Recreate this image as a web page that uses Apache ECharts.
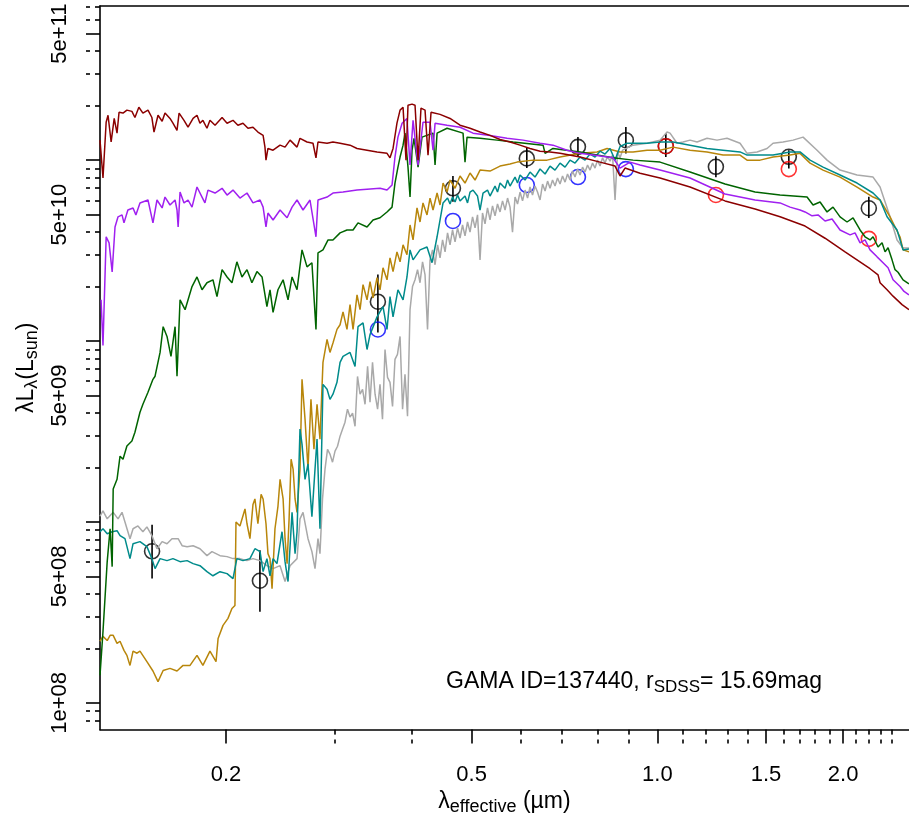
<!DOCTYPE html>
<html><head><meta charset="utf-8">
<script src="https://cdn.jsdelivr.net/npm/echarts@6/dist/echarts.min.js"></script>
<style>html,body{margin:0;padding:0;background:#fff}#c{width:909px;height:821px}</style>
</head><body><div id="c"></div>
<script>
// ---- spectra (wavelength in micron, lambda*L_lambda in L_sun) ----
const darkredWave = [0.1250,0.1264,0.1279,0.1288,0.1303,0.1318,0.1332,0.1342,0.1362,0.1382,0.1408,0.1424,0.1445,0.1467,0.1495,0.1517,0.1529,0.1552,0.1576,0.1593,0.1623,0.1641,0.1666,0.1679,0.1710,0.1736,0.1769,0.1795,0.1815,0.1835,0.1863,0.1884,0.1920,0.1971,0.2008,0.2053,0.2091,0.2131,0.2171,0.2212,0.2253,0.2297,0.2313,0.2322,0.2339,0.2384,0.2447,0.2493,0.2540,0.2607,0.2636,0.2706,0.2767,0.2798,0.2819,0.2916,0.2981,0.3061,0.3177,0.3261,0.3385,0.3514,0.3647,0.3688,0.3730,0.3785,0.3829,0.3872,0.3915,0.3944,0.4004,0.4049,0.4095,0.4140,0.4203,0.4250,0.4298,0.4445,0.4614,0.4789,0.4971,0.5160,0.5356,0.5560,0.5771,0.5991,0.6218,0.6455,0.6700,0.6955,0.7494,0.8074,0.8539,0.8700,0.8864,0.9374,1.0100,1.1296,1.2872,1.4397,1.5804,1.7349,1.8693,2.0141,2.2110,2.278,2.2951,2.3559,2.4091,2.4914,2.5566];
const darkredLum = [1.29e11,7.96e10,1.62e11,1.77e11,1.26e11,1.70e11,1.41e11,1.84e11,1.82e11,1.89e11,1.86e11,1.72e11,1.96e11,1.82e11,1.89e11,1.72e11,1.43e11,1.77e11,1.64e11,1.82e11,1.70e11,1.60e11,1.46e11,1.82e11,1.66e11,1.52e11,1.70e11,1.77e11,1.60e11,1.66e11,1.50e11,1.66e11,1.56e11,1.72e11,1.60e11,1.66e11,1.56e11,1.60e11,1.50e11,1.52e11,1.43e11,1.37e11,1.18e11,1.00e11,1.16e11,1.135e11,1.21e11,1.18e11,1.29e11,1.18e11,1.32e11,1.26e11,1.24e11,1.03e11,1.26e11,1.24e11,1.26e11,1.24e11,1.21e11,1.16e11,1.135e11,1.11e11,1.09e11,1.03e11,1.16e11,1.60e11,1.89e11,1.96e11,1.00e11,2.01e11,2.04e11,2.01e11,1.00e11,1.94e11,1.89e11,1.066e11,1.84e11,1.79e11,1.70e11,1.56e11,1.50e11,1.43e11,1.37e11,1.30e11,1.26e11,1.21e11,1.16e11,1.12e11,1.11e11,1.09e11,1.04e11,9.75e10,9.27e10,8.17e10,9.04e10,8.46e10,7.96e10,7.10e10,5.95e10,5.37e10,4.86e10,4.32e10,3.70e10,3.11e10,2.51e10,2.32e10,2.10e10,1.92e10,1.77e10,1.59e10,1.49e10];

const purpleWave = [0.1255,0.1264,0.1279,0.1293,0.1308,0.1322,0.1337,0.1357,0.1367,0.1387,0.1414,0.1429,0.1451,0.1495,0.1523,0.1546,0.1576,0.1593,0.1623,0.1654,0.1666,0.1673,0.1685,0.1710,0.1736,0.1762,0.1795,0.1829,0.1849,0.1870,0.1920,0.1971,0.2008,0.2053,0.2107,0.2163,0.2212,0.2271,0.2297,0.2322,0.2339,0.2384,0.2447,0.2512,0.2559,0.2607,0.2666,0.2736,0.2798,0.2819,0.2916,0.2981,0.3095,0.3261,0.3385,0.3553,0.3647,0.3716,0.3757,0.3799,0.3858,0.3929,0.3974,0.4019,0.4095,0.4171,0.4282,0.4330,0.4363,0.4563,0.4789,0.5027,0.5356,0.5707,0.6058,0.6455,0.6775,0.7139,0.7494,0.7867,0.8475,0.8700,0.9031,0.9374,1.0100,1.1296,1.2872,1.4397,1.5804,1.6405,1.7029,1.7349,1.7808,1.8212,1.8693,1.9188,1.9769,2.0521,2.0906,2.1301,2.1701,2.2110,2.2696,2.3209,2.3647,2.4091,2.4729,2.5101,2.5566];
const purpleLum = [1.69e10,9.45e9,3.77e10,3.49e10,2.41e10,4.27e10,4.86e10,4.98e10,4.50e10,5.30e10,5.44e10,4.98e10,5.80e10,6.02e10,4.50e10,6.02e10,5.44e10,6.25e10,5.65e10,6.02e10,5.30e10,4.27e10,6.66e10,5.80e10,6.02e10,5.50e10,7.10e10,6.25e10,5.80e10,6.83e10,6.58e10,6.99e10,6.41e10,6.83e10,6.17e10,6.58e10,5.80e10,6.02e10,5.50e10,4.27e10,5.10e10,4.67e10,5.30e10,4.80e10,5.50e10,6.02e10,5.30e10,6.02e10,3.77e10,6.02e10,6.25e10,6.58e10,6.66e10,6.83e10,6.91e10,6.99e10,6.83e10,7.28e10,1.04e11,1.34e11,1.60e11,1.70e11,9.39e10,1.66e11,9.39e10,1.62e11,1.62e11,1.135e11,1.60e11,1.56e11,1.52e11,1.41e11,1.37e11,1.32e11,1.29e11,1.24e11,1.21e11,1.135e11,1.09e11,1.066e11,1.03e11,9.04e10,9.75e10,9.39e10,8.81e10,7.96e10,6.50e10,6.02e10,5.80e10,5.50e10,5.30e10,5.17e10,4.92e10,4.98e10,4.61e10,4.73e10,4.11e10,3.86e10,3.96e10,3.49e10,3.62e10,3.19e10,2.92e10,2.71e10,2.54e10,2.18e10,2.00e10,1.88e10,1.80e10];

const greenWave = [0.1250,0.1264,0.1284,0.1298,0.1308,0.1313,0.1332,0.1347,0.1362,0.1382,0.1408,0.1424,0.1451,0.1467,0.1495,0.1523,0.1535,0.1564,0.1582,0.1605,0.1629,0.1654,0.1666,0.1685,0.1717,0.1762,0.1795,0.1829,0.1863,0.1905,0.1934,0.1971,0.2008,0.2045,0.2083,0.2123,0.2163,0.2203,0.2245,0.2288,0.2330,0.2357,0.2384,0.2428,0.2475,0.2521,0.2559,0.2607,0.2656,0.2706,0.2756,0.2798,0.2819,0.2872,0.2927,0.2981,0.3061,0.3141,0.3213,0.3273,0.3385,0.3462,0.3553,0.3647,0.3716,0.3757,0.3799,0.3829,0.3872,0.3900,0.3944,0.3974,0.4004,0.4034,0.4095,0.4156,0.4330,0.4363,0.4396,0.4563,0.4843,0.4879,0.4916,0.5160,0.5498,0.5836,0.6528,0.6577,0.6775,0.7494,0.7984,0.8475,0.9133,1.0100,1.1296,1.2872,1.4397,1.5804,1.7479,1.7875,1.8348,1.8833,1.9259,1.9769,2.0292,2.0752,2.1301,2.1701,2.2110,2.2359,2.2780,2.3123,2.3384,2.3647,2.4001,2.4271,2.4544,2.5007,2.5566];
const greenLum = [1.42e8,2.48e8,6.03e8,9.17e8,5.66e8,1.52e9,1.72e9,2.31e9,2.22e9,2.63e9,2.80e9,3.13e9,4.04e9,4.47e9,5.21e9,6.14e9,6.39e9,8.65e9,1.20e10,1.06e10,8.22e9,1.20e10,6.39e9,1.69e10,1.49e10,2.00e10,2.26e10,1.92e10,2.10e10,2.18e10,1.76e10,2.48e10,2.26e10,2.10e10,2.74e10,2.26e10,2.48e10,2.10e10,2.42e10,2.26e10,1.55e10,1.92e10,1.44e10,1.92e10,2.18e10,1.69e10,2.26e10,1.92e10,3.19e10,2.57e10,2.71e10,1.16e10,3.07e10,3.19e10,3.62e10,3.62e10,3.96e10,4.11e10,4.11e10,4.50e10,4.27e10,4.67e10,4.80e10,5.17e10,5.50e10,7.47e10,9.15e10,1.04e11,1.21e11,1.41e11,9.15e10,6.25e10,1.135e11,1.32e11,9.15e10,1.34e11,1.41e11,9.39e10,1.41e11,1.50e11,1.41e11,9.75e10,1.34e11,1.32e11,1.29e11,1.26e11,1.21e11,1.09e11,1.16e11,1.11e11,1.066e11,1.03e11,1.00e11,9.75e10,8.59e10,7.38e10,6.66e10,6.41e10,6.25e10,5.65e10,5.87e10,5.17e10,5.50e10,4.86e10,4.55e10,4.80e10,4.11e10,3.77e10,3.62e10,3.77e10,3.31e10,3.49e10,3.11e10,3.28e10,2.81e10,2.48e10,2.40e10,2.18e10,2.07e10];

const goldWave = [0.1250,0.1264,0.1284,0.1298,0.1313,0.1332,0.1347,0.1367,0.1382,0.1398,0.1414,0.1435,0.1451,0.1489,0.1523,0.1552,0.1582,0.1623,0.1666,0.1704,0.1749,0.1795,0.1835,0.1884,0.1927,0.1942,0.1978,0.2015,0.2045,0.2068,0.2076,0.2107,0.2147,0.2163,0.2187,0.2212,0.2228,0.2253,0.2280,0.2297,0.2322,0.2339,0.2357,0.2375,0.2401,0.2428,0.2447,0.2475,0.2493,0.2512,0.2531,0.2550,0.2569,0.2588,0.2607,0.2636,0.2656,0.2686,0.2716,0.2746,0.2777,0.2809,0.2840,0.2872,0.2916,0.2948,0.2981,0.3026,0.3061,0.3095,0.3141,0.3177,0.3213,0.3261,0.3298,0.3335,0.3385,0.3423,0.3462,0.3514,0.3553,0.3593,0.3647,0.3688,0.3730,0.3785,0.3829,0.3872,0.3929,0.3974,0.4019,0.4079,0.4125,0.4171,0.4234,0.4282,0.4330,0.4396,0.4445,0.4495,0.4563,0.4614,0.4701,0.4789,0.4879,0.4971,0.5065,0.5160,0.5356,0.5560,0.5771,0.5924,0.6288,0.6626,0.6955,0.7494,0.7984,0.8288,0.8700,0.9133,0.9623,1.0100,1.0601,1.1296,1.2036,1.2776,1.3613,1.3974,1.4668,1.5397,1.6405,1.7029,1.7676,1.8555,1.9769,2.1063,2.2359,2.2951,2.3823,2.4729,2.5007,2.5566];
const goldLum = [2.19e8,2.33e8,2.21e8,2.36e8,2.36e8,2.13e8,2.19e8,1.95e8,1.83e8,1.61e8,1.93e8,1.88e8,1.93e8,1.69e8,1.50e8,1.31e8,1.51e8,1.55e8,1.50e8,1.61e8,1.61e8,1.83e8,1.61e8,1.93e8,1.69e8,2.27e8,2.68e8,2.93e8,3.32e8,3.45e8,1.00e9,9.5e8,1.18e9,9.77e8,8.08e8,1.25e9,1.34e9,9.77e8,1.42e9,1.34e9,9.77e8,6.68e8,6.27e8,4.28e8,9.17e8,1.22e9,1.72e9,1.34e9,8.08e8,5.88e8,1.04e9,2.22e9,1.96e9,1.34e9,1.13e9,1.96e9,6.14e9,3.70e9,1.96e9,4.76e9,2.52e9,4.47e9,2.87e9,7.62e9,1.02e10,8.65e9,9.76e9,1.16e10,1.23e10,1.45e10,1.16e10,1.59e10,1.16e10,1.80e10,1.49e10,2.05e10,1.69e10,2.13e10,1.73e10,2.24e10,1.92e10,2.54e10,2.18e10,2.88e10,2.42e10,3.11e10,2.74e10,3.40e10,3.00e10,4.38e10,3.62e10,5.44e10,4.55e10,5.80e10,4.98e10,6.17e10,5.30e10,6.58e10,5.65e10,7.47e10,6.66e10,7.76e10,6.99e10,8.17e10,7.47e10,8.49e10,7.76e10,8.81e10,8.70e10,9.27e10,9.51e10,9.75e10,1.00e11,1.00e11,1.04e11,1.09e11,1.11e11,1.16e11,1.11e11,1.11e11,1.135e11,1.135e11,1.18e11,1.135e11,1.11e11,1.066e11,1.066e11,1.00e11,1.00e11,1.04e11,1.066e11,1.09e11,9.63e10,8.81e10,8.06e10,7.10e10,6.25e10,6.02e10,4.86e10,3.76e10,3.19e10,3.11e10];

const tealWave = [0.1250,0.1264,0.1284,0.1308,0.1332,0.1347,0.1372,0.1398,0.1414,0.1451,0.1489,0.1517,0.1535,0.1564,0.1605,0.1641,0.1685,0.1730,0.1769,0.1815,0.1863,0.1905,0.1956,0.2008,0.2053,0.2083,0.2131,0.2187,0.2228,0.2271,0.2297,0.2330,0.2357,0.2384,0.2419,0.2465,0.2493,0.2521,0.2559,0.2588,0.2607,0.2636,0.2656,0.2686,0.2716,0.2756,0.2788,0.2809,0.2840,0.2872,0.2916,0.2948,0.2981,0.3026,0.3061,0.3095,0.3177,0.3237,0.3273,0.3335,0.3385,0.3423,0.3514,0.3593,0.3647,0.3688,0.3730,0.3799,0.3872,0.3929,0.3974,0.4019,0.4125,0.4234,0.4314,0.4396,
  0.4495,0.4571,0.4614,0.4657,0.4701,0.4745,0.4789,0.4879,0.4925,0.4971,0.5027,0.5112,0.5160,0.5218,0.5306,0.5356,0.5457,0.5508,0.5560,0.5665,0.5718,0.5771,0.5880,0.5935,0.5991,0.6104,0.6218,0.6335,0.6455,0.6577,0.6700,0.6826,0.6955,0.7086,0.7219,0.7355,0.7494,0.7635,0.7779,0.7925,0.8074,0.8226,0.8381,0.8539,0.8700,0.8930,
  0.9623,1.0100,1.0601,1.1296,1.2036,1.2776,1.3613,1.3974,1.4668,1.5397,1.6405,1.7029,1.7676,1.8555,1.9769,2.1063,2.2359,2.2951,2.3559,2.4453,2.5007,2.5566];
const tealLum = [8.83e8,9.17e8,8.61e8,8.83e8,8.94e8,8.40e8,8.08e8,6.27e8,7.58e8,7.78e8,7.30e8,6.27e8,5.52e8,6.27e8,6.11e8,6.27e8,6.03e8,6.11e8,5.88e8,5.73e8,5.31e8,5.04e8,5.31e8,5.18e8,4.86e8,6.27e8,6.11e8,6.27e8,7.11e8,6.85e8,5.31e8,6.27e8,5.04e8,6.27e8,5.88e8,8.83e8,6.03e8,4.68e8,1.13e9,6.68e8,8.83e8,3.26e9,2.69e9,1.72e9,2.09e9,1.07e9,1.96e9,2.87e9,9.17e8,5.76e9,5.41e9,4.76e9,5.08e9,5.91e9,7.62e9,8.22e9,8.65e9,7.24e9,1.20e10,1.26e10,8.98e9,1.085e10,1.36e10,1.55e10,1.16e10,1.76e10,1.36e10,1.92e10,1.69e10,2.26e10,3.19e10,2.81e10,3.19e10,3.31e10,2.71e10,3.77e10,
  5.80e10,6.17e10,5.72e10,6.25e10,5.87e10,6.41e10,5.95e10,6.33e10,5.80e10,6.66e10,6.83e10,6.33e10,5.30e10,6.58e10,6.83e10,6.33e10,7.19e10,6.66e10,7.47e10,6.99e10,7.76e10,7.19e10,8.06e10,7.47e10,8.27e10,7.76e10,8.59e10,8.06e10,8.93e10,8.38e10,9.27e10,8.81e10,9.63e10,9.15e10,1.00e11,9.63e10,1.04e11,1.00e11,1.08e11,1.04e11,1.12e11,1.08e11,1.16e11,1.00e11,1.19e11,1.24e11,
  1.24e11,1.26e11,1.26e11,1.21e11,1.16e11,1.135e11,1.11e11,1.066e11,1.066e11,1.066e11,1.11e11,1.11e11,1.00e11,9.15e10,8.27e10,7.47e10,6.58e10,6.02e10,4.86e10,4.11e10,3.19e10,3.23e10];

const grayWave = [0.1250,0.1264,0.1284,0.1313,0.1337,0.1357,0.1372,0.1398,0.1414,0.1440,0.1467,0.1489,0.1517,0.1546,0.1576,0.1605,0.1635,0.1673,0.1698,0.1730,0.1769,0.1815,0.1863,0.1898,0.1956,0.2008,0.2053,0.2107,0.2163,0.2212,0.2271,0.2330,0.2384,0.2447,0.2493,0.2540,0.2607,0.2636,0.2666,0.2716,0.2756,0.2788,0.2819,0.2840,
  0.2867,0.2894,0.2921,0.2948,0.2976,0.3004,0.3032,0.3061,0.3090,0.3118,0.3147,0.3177,0.3207,0.3237,0.3267,0.3298,0.3329,0.3360,0.3392,0.3423,0.3455,0.3488,0.3521,0.3553,0.3586,0.3620,0.3654,0.3688,0.3723,0.3757,0.3792,0.3829,0.3865,0.3900,0.3937,0.3974,0.4011,0.4049,0.4087,0.4125,0.4164,0.4203,0.4242,0.4282,0.4322,0.4363,0.4404,0.4445,0.4487,0.4529,0.4571,0.4614,0.4657,0.4701,0.4745,0.4789,0.4834,0.4879,0.4925,0.4971,0.5018,0.5065,0.5112,0.5160,0.5208,0.5257,0.5306,0.5356,0.5406,0.5457,0.5508,0.5560,0.5612,0.5665,0.5718,0.5771,0.5825,0.5880,0.5935,0.5991,0.6047,0.6104,0.6161,0.6218,0.6276,0.6335,0.6394,0.6455,0.6516,0.6577,0.6639,0.6700,0.6763,0.6826,0.6890,0.6955,0.7020,0.7086,0.7152,0.7219,0.7287,0.7355,0.7424,0.7494,0.7564,0.7635,0.7707,0.7779,0.7852,0.7925,0.7999,0.8074,0.8150,0.8226,0.8303,0.8381,0.8460,0.8539,0.8619,0.8700,0.8782,
  0.9133,0.9623,1.0100,1.0367,1.0484,1.0761,1.1006,1.1296,1.1595,1.2036,1.2494,1.2968,1.3613,1.3974,1.4505,1.5056,1.5397,1.5982,1.6590,1.7221,1.8144,1.8833,1.9769,2.1063,2.2359,2.2951,2.3823,2.4453,2.5007,2.5566];
const grayLum = [1.075e9,1.15e9,1.04e9,1.13e9,1.04e9,1.13e9,1.00e9,8.08e8,9.17e8,9.5e8,8.83e8,9.39e8,8.40e8,7.11e8,7.78e8,7.58e8,8.08e8,8.08e8,7.39e8,7.30e8,7.39e8,7.11e8,6.51e8,6.85e8,6.51e8,6.43e8,6.27e8,6.27e8,6.11e8,6.27e8,6.11e8,5.73e8,5.52e8,5.73e8,4.68e8,5.73e8,6.27e8,1.04e9,1.13e9,8.08e8,6.85e8,5.52e8,8.08e8,6.68e8,
  1.34e9,1.96e9,2.52e9,2.37e9,2.14e9,2.46e9,2.62e9,2.98e9,3.26e9,3.56e9,4.20e9,3.80e9,3.99e9,3.38e9,6.37e9,5.08e9,5.41e9,4.47e9,7.24e9,4.59e9,7.62e9,5.08e9,4.20e9,5.76e9,3.70e9,8.98e9,6.30e9,5.91e9,4.35e9,7.91e9,8.43e9,1.06e10,4.20e9,6.54e9,3.84e9,1.49e10,2.00e10,2.18e10,2.48e10,2.10e10,2.74e10,2.32e10,1.16e10,2.81e10,3.19e10,2.64e10,3.40e10,2.88e10,3.62e10,3.11e10,3.96e10,3.40e10,4.11e10,3.53e10,4.22e10,3.71e10,4.38e10,3.81e10,4.55e10,4.00e10,4.86e10,4.22e10,4.98e10,2.81e10,5.10e10,4.44e10,5.44e10,4.67e10,5.58e10,4.92e10,5.72e10,5.17e10,5.95e10,5.30e10,6.17e10,5.50e10,4.00e10,6.25e10,5.72e10,6.66e10,5.95e10,6.83e10,6.17e10,7.10e10,6.41e10,7.19e10,6.66e10,6.02e10,7.38e10,6.75e10,7.66e10,6.99e10,7.76e10,7.19e10,7.96e10,7.38e10,8.17e10,7.56e10,8.38e10,7.76e10,8.70e10,8.06e10,8.93e10,8.27e10,9.15e10,8.59e10,9.39e10,8.81e10,9.63e10,9.04e10,1.00e11,9.27e10,1.03e11,9.63e10,1.05e11,9.87e10,1.066e11,6.02e10,1.11e11,1.03e11,1.135e11,
  1.21e11,1.24e11,1.29e11,1.43e11,1.41e11,1.24e11,1.26e11,1.29e11,1.26e11,1.32e11,1.29e11,1.32e11,1.24e11,1.09e11,1.11e11,1.16e11,1.24e11,1.26e11,1.29e11,1.34e11,1.135e11,1.00e11,8.81e10,8.27e10,8.06e10,7.10e10,4.86e10,3.62e10,3.27e10,3.27e10];

// ---- photometry ----
const photWave = [0.1518,0.2270,0.3525,0.4664,0.6144,0.7435,0.8891,1.032,1.244,1.633,2.201];
const photLum  = [6.88e8,4.73e8,1.65e10,6.99e10,1.022e11,1.184e11,1.289e11,1.194e11,9.19e10,1.043e11,5.42e10];
const photLo   = [4.87e8,3.19e8,1.115e10,5.89e10,9.04e10,1.043e11,1.089e11,1.039e11,8.03e10,9.00e10,4.78e10];
const photHi   = [9.65e8,6.97e8,2.33e10,8.16e10,1.18e11,1.344e11,1.525e11,1.408e11,1.052e11,1.135e11,6.28e10];
const redWave  = [1.032,1.244,1.633,2.201];
const redLum   = [1.194e11,6.42e10,8.92e10,3.67e10];
const blueWave = [0.3525,0.4664,0.6144,0.7435,0.8891];
const blueLum  = [1.158e10,4.61e10,7.28e10,8.06e10,8.92e10];

// ---- ticks ----
const xMajorTicks = [0.2,0.5,1.0,1.5,2.0];
const xTickLabels = ['0.2','0.5','1.0','1.5','2.0'];
const xMinorTicks = [0.3,0.4,0.6,0.7,0.8,0.9,1.1,1.2,1.3,1.4,1.6,1.7,1.8,1.9,2.1,2.2,2.3,2.4];
const yMajorTicks = [1e8,5e8,1e9,5e9,1e10,5e10,1e11,5e11];
const yLabelValues = [1e8,5e8,5e9,5e10,5e11];
const yTickLabels = ['1e+08','5e+08','5e+09','5e+10','5e+11'];
const yMinorTicks = [8e7,9e7,2e8,3e8,4e8,6e8,7e8,8e8,9e8,2e9,3e9,4e9,6e9,7e9,8e9,9e9,2e10,3e10,4e10,6e10,7e10,8e10,9e10,2e11,3e11,4e11,6e11,7e11];

const L10 = Math.log10;
function pairs(w, l) { const n = Math.min(w.length, l.length); const out = []; for (let i = 0; i < n; i++) out.push([L10(w[i]), L10(l[i])]); return out; }
function lookup(vals, labels) { return function (v) { let best = 0, bd = 1e9; vals.forEach((t, i) => { const d = Math.abs(L10(t) - v); if (d < bd) { bd = d; best = i; } }); return labels[best]; }; }

const FONT = '"Liberation Sans", Arial, Helvetica, sans-serif';
const XMIN = -0.9031, XMAX = 0.4077, YMIN = 7.852, YMAX = 11.852;

function lineSeries(w, l, color) {
  return { type: 'line', data: pairs(w, l), showSymbol: false, symbol: 'none', animation: false,
    lineStyle: { color: color, width: 1.5 }, itemStyle: { color: color }, silent: true };
}

const chart = echarts.init(document.getElementById('c'), null, { renderer: 'canvas' });
const richMain = { fontSize: 23, lineHeight: 28, fontFamily: FONT, color: '#000' };
const richSub = { fontSize: 18, lineHeight: 18, verticalAlign: 'bottom', fontFamily: FONT, color: '#000' };

chart.setOption({
  animation: false,
  backgroundColor: '#fff',
  grid: { left: 100, right: 0, top: 6, bottom: 89, containLabel: false },
  xAxis: [
    { type: 'value', min: XMIN, max: XMAX, position: 'bottom',
      axisLine: { show: true, onZero: false, lineStyle: { color: '#000', width: 1.6 } },
      axisTick: { show: true, length: 14, lineStyle: { color: '#000', width: 1.6 }, customValues: xMajorTicks.map(L10) },
      axisLabel: { show: true, margin: 34, fontSize: 22, fontFamily: FONT, color: '#000', customValues: xMajorTicks.map(L10), formatter: lookup(xMajorTicks, xTickLabels) },
      splitLine: { show: false },
      name: '{a|λ}{s|effective}{a| (µm)}', nameLocation: 'middle', nameGap: 57,
      nameTextStyle: { fontSize: 23, fontFamily: FONT, color: '#000', rich: { a: richMain, s: richSub } } },
    { type: 'value', min: XMIN, max: XMAX, position: 'bottom',
      axisLine: { show: false, onZero: false },
      axisTick: { show: true, length: 14, lineStyle: { color: '#000', width: 1.6, type: [5, 5] }, customValues: xMinorTicks.map(L10) },
      axisLabel: { show: false }, splitLine: { show: false } },
    { type: 'value', min: XMIN, max: XMAX, position: 'top',
      axisLine: { show: true, onZero: false, lineStyle: { color: '#000', width: 1.6 } },
      axisTick: { show: false }, axisLabel: { show: false }, splitLine: { show: false } }
  ],
  yAxis: [
    { type: 'value', min: YMIN, max: YMAX, position: 'left',
      axisLine: { show: true, onZero: false, lineStyle: { color: '#000', width: 1.6 } },
      axisTick: { show: true, length: 14, lineStyle: { color: '#000', width: 1.6 }, customValues: yMajorTicks.map(L10) },
      axisLabel: { show: true, rotate: 90, margin: 29, fontSize: 22, fontFamily: FONT, color: '#000', customValues: yLabelValues.map(L10), formatter: lookup(yLabelValues, yTickLabels) },
      splitLine: { show: false },
      name: '{a|λL}{s|λ}{a|(L}{s|sun}{a|)}', nameLocation: 'middle', nameRotate: 90, nameGap: 58,
      nameTextStyle: { fontSize: 23, fontFamily: FONT, color: '#000', rich: { a: richMain, s: richSub } } },
    { type: 'value', min: YMIN, max: YMAX, position: 'left',
      axisLine: { show: false, onZero: false },
      axisTick: { show: true, length: 14, lineStyle: { color: '#000', width: 1.6, type: [5, 5] }, customValues: yMinorTicks.map(L10) },
      axisLabel: { show: false }, splitLine: { show: false } }
  ],
  graphic: [{
    type: 'text', left: 446, top: 670, silent: true,
    style: { text: '{a|GAMA ID=137440, r}{s|SDSS}{a|= 15.69mag}', fill: '#000', font: '23px ' + FONT,
      rich: { a: { fontSize: 23, lineHeight: 28, fontFamily: FONT, fill: '#000', color: '#000' },
              s: { fontSize: 17, lineHeight: 17, verticalAlign: 'bottom', fontFamily: FONT, fill: '#000', color: '#000' } } }
  }],
  series: [
    lineSeries(grayWave, grayLum, '#A9A9A9'),
    lineSeries(goldWave, goldLum, '#B8860B'),
    lineSeries(tealWave, tealLum, '#008B8B'),
    lineSeries(greenWave, greenLum, '#006400'),
    lineSeries(purpleWave, purpleLum, '#A020F0'),
    lineSeries(darkredWave, darkredLum, '#8B0000'),
    { type: 'custom', silent: true, animation: false,
      data: photWave.map((w, i) => [L10(w), L10(photLo[i]), L10(photHi[i])]),
      encode: { x: 0, y: [1, 2] },
      renderItem: function (params, api) {
        const p1 = api.coord([api.value(0), api.value(1)]);
        const p2 = api.coord([api.value(0), api.value(2)]);
        return { type: 'line', shape: { x1: p1[0], y1: p1[1], x2: p2[0], y2: p2[1] }, style: { stroke: '#000', lineWidth: 1.6 } };
      } },
    { type: 'scatter', data: pairs(photWave, photLum), symbol: 'circle', symbolSize: 15, silent: true, animation: false,
      itemStyle: { color: 'rgba(0,0,0,0)', borderColor: '#000', borderWidth: 1.6 } },
    { type: 'scatter', data: pairs(redWave, redLum), symbol: 'circle', symbolSize: 15, silent: true, animation: false,
      itemStyle: { color: 'rgba(0,0,0,0)', borderColor: '#FF0000', borderWidth: 1.6 } },
    { type: 'scatter', data: pairs(blueWave, blueLum), symbol: 'circle', symbolSize: 15, silent: true, animation: false,
      itemStyle: { color: 'rgba(0,0,0,0)', borderColor: '#0000FF', borderWidth: 1.6 } }
  ]
});
</script></body></html>
